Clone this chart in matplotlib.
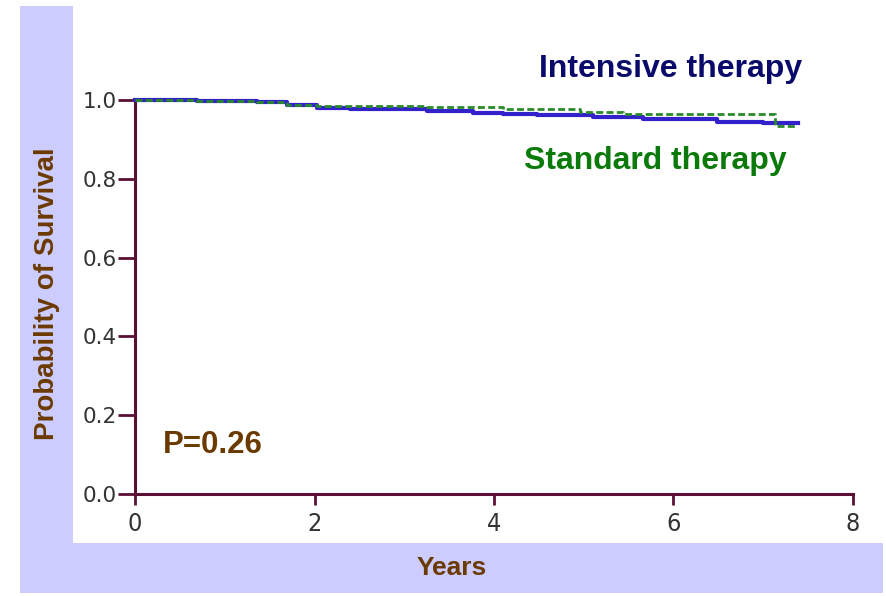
import matplotlib
matplotlib.use("Agg")
import matplotlib.pyplot as plt
from matplotlib.patches import Rectangle

# Kaplan-Meier step data (years, survival probability)
intensive_t = [0, 0.69, 1.36, 1.69, 2.03, 2.40, 3.25, 3.77, 4.10, 4.48, 5.10, 5.66, 6.48, 7.00, 7.39]
intensive_s = [1.0, 0.997, 0.994, 0.987, 0.980, 0.977, 0.972, 0.968, 0.964, 0.962, 0.958, 0.952, 0.943, 0.941, 0.941]
standard_t = [0, 0.69, 1.36, 1.69, 2.03, 3.25, 4.10, 4.96, 5.44, 7.13, 7.35]
standard_s = [1.0, 0.997, 0.994, 0.988, 0.986, 0.982, 0.976, 0.970, 0.964, 0.935, 0.935]

x_ticks = [0, 2, 4, 6, 8]
y_ticks = [0.0, 0.2, 0.4, 0.6, 0.8, 1.0]
y_tick_labels = ["0.0", "0.2", "0.4", "0.6", "0.8", "1.0"]

W, H = 887, 596
fig = plt.figure(figsize=(W / 100, H / 100), dpi=100)
fig.patch.set_facecolor("white")

lav = "#ccccff"
# left strip and bottom strip (pixel coords from top-left)
fig.patches.append(Rectangle((20 / W, 1 - 543 / H), 53 / W, 537 / H,
                             transform=fig.transFigure, facecolor=lav, edgecolor="none", zorder=0))
fig.patches.append(Rectangle((20 / W, 1 - 593 / H), 863 / W, 50 / H,
                             transform=fig.transFigure, facecolor=lav, edgecolor="none", zorder=0))

ax = fig.add_axes([135 / W, 1 - 494 / H, (853 - 135) / W, (494 - 100) / H])
ax.set_facecolor("none")
ax.set_xlim(0, 8)
ax.set_ylim(0, 1)

spc = "#5a0f35"
for side in ["top", "right"]:
    ax.spines[side].set_visible(False)
for side in ["left", "bottom"]:
    ax.spines[side].set_color(spc)
    ax.spines[side].set_linewidth(2.2)

ax.step(intensive_t, intensive_s, where="post", color="#3322cc", lw=3.0, clip_on=False, zorder=3)
ax.step(standard_t, standard_s, where="post", color="#2a8a2a", lw=2.0, ls=(0, (2.5, 1.2)),
        clip_on=False, zorder=4)

ax.set_xticks(x_ticks)
ax.set_xticklabels([str(v) for v in x_ticks], fontsize=18, color="#333333",
                   family="DejaVu Sans", fontstretch="condensed")
ax.set_yticks(y_ticks)
ax.set_yticklabels(y_tick_labels, fontsize=15.5, color="#333333", family="DejaVu Sans")
ax.tick_params(axis="y", direction="out", length=12, width=2, color=spc, pad=1)
ax.tick_params(axis="x", direction="out", length=8, width=2, color=spc, pad=5)

bold = dict(family="Liberation Sans", weight="bold")
ax.text(7.43, 1.078, "Intensive therapy", color="#0a0a6a", fontsize=23, ha="right", va="center", **bold)
ax.text(7.26, 0.845, "Standard therapy", color="#0a7a0a", fontsize=23, ha="right", va="center", **bold)
ax.text(0.31, 0.125, "P=0.26", color="#6b3a00", fontsize=22.5, ha="left", va="center", **bold)

fig.text(47 / W, 1 - 294 / H, "Probability of Survival", rotation=90, color="#6b3a00",
         fontsize=20, ha="center", va="center", **bold)
fig.text(452 / W, 1 - 568 / H, "Years", color="#6b3a00", fontsize=19, ha="center", va="center", **bold)

fig.savefig("out.png", dpi=100)
